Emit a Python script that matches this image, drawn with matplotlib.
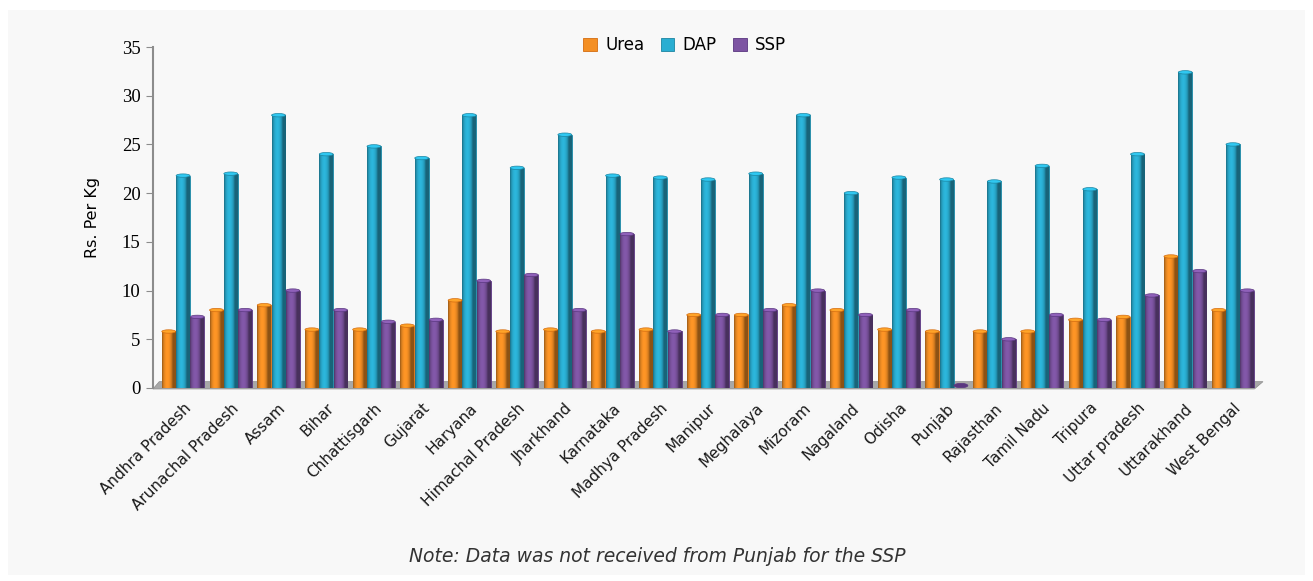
import numpy as np
import matplotlib
matplotlib.use("Agg")
import matplotlib.pyplot as plt
from matplotlib.patches import Rectangle, Polygon, Ellipse

states = ["Andhra Pradesh", "Arunachal Pradesh", "Assam", "Bihar", "Chhattisgarh",
          "Gujarat", "Haryana", "Himachal Pradesh", "Jharkhand", "Karnataka",
          "Madhya Pradesh", "Manipur", "Meghalaya", "Mizoram", "Nagaland", "Odisha",
          "Punjab", "Rajasthan", "Tamil Nadu", "Tripura", "Uttar pradesh",
          "Uttarakhand", "West Bengal"]
urea = [5.8, 8.0, 8.5, 6.0, 6.0, 6.4, 9.0, 5.8, 6.0, 5.8, 6.0, 7.5, 7.5, 8.5, 8.0,
        6.0, 5.8, 5.8, 5.8, 7.0, 7.3, 13.5, 8.0]
dap = [21.8, 22.0, 28.0, 24.0, 24.8, 23.6, 28.0, 22.6, 26.0, 21.8, 21.6, 21.4, 22.0,
       28.0, 20.0, 21.6, 21.4, 21.2, 22.8, 20.4, 24.0, 32.4, 25.0]
ssp = [7.3, 8.0, 10.0, 8.0, 6.8, 7.0, 11.0, 11.6, 8.0, 15.8, 5.8, 7.5, 8.0, 10.0,
       7.5, 8.0, 0.0, 5.0, 7.5, 7.0, 9.5, 12.0, 10.0]

series = [("Urea", urea, "#f48f24", "#d46c10"),
          ("DAP", dap, "#2aaed2", "#1b85a2"),
          ("SSP", ssp, "#7d54a2", "#5a3780")]

fig = plt.figure(figsize=(13.13, 5.81), dpi=100, facecolor="white")
fig.patches.append(Rectangle((8 / 1313, 6 / 581), 1297 / 1313, 565 / 581,
                             transform=fig.transFigure, facecolor="#f8f8f8",
                             edgecolor="none", zorder=-10))
ax = fig.add_axes([153 / 1313, 1 - 388 / 581, 1110 / 1313, 341 / 581])
ax.set_facecolor("none")

x = np.arange(len(states))
w = 0.3
offsets = [-w, 0, w]

# grey floor behind the bars
floor = Polygon([(-0.63, -0.1), (22.45, -0.1), (22.63, 0.65), (-0.5, 0.65)],
                closed=True, facecolor="#a8a8a8", edgecolor="#8c8c8c",
                lw=0.5, zorder=1, clip_on=False)
ax.add_patch(floor)

# horizontal gradient to give a cylinder look
grad = np.linspace(0, 1, 64)
shade = 0.55 + 0.45 * np.sin(np.pi * np.clip(grad * 1.3, 0, 1)) ** 0.6

for (name, vals, col, dark), off in zip(series, offsets):
    base = np.array(matplotlib.colors.to_rgb(col))
    img = np.clip(base[None, :] * shade[:, None] * 1.05, 0, 1)[None, :, :]
    bars = ax.bar(x + off, vals, width=w * 0.97, color=col, edgecolor=dark,
                  linewidth=0.6, zorder=2, label=name)
    for b, v in zip(bars, vals):
        cx = b.get_x() + b.get_width() / 2
        if v <= 0:
            # flat disc for a zero value
            ax.add_patch(Ellipse((cx, 0.25), b.get_width(), 0.45, facecolor=dark,
                                 edgecolor=dark, lw=0.5, zorder=3))
            continue
        im = ax.imshow(img, extent=(b.get_x(), b.get_x() + b.get_width(), 0, v),
                       aspect="auto", zorder=2.5, interpolation="bilinear")
        im.set_clip_path(b)
        ax.add_patch(Ellipse((cx, v), b.get_width(), 0.35,
                             facecolor=np.clip(base * 1.15, 0, 1), edgecolor=dark,
                             lw=0.5, zorder=3))

ax.set_xlim(-0.63, 22.63)
ax.set_ylim(0, 35)
ax.set_yticks(range(0, 36, 5))
ax.tick_params(axis="y", direction="out", length=5, color="#8c8c8c",
               labelsize=13.5, pad=4, labelfontfamily="Liberation Serif")
ax.set_xticks(x)
ax.set_xticklabels(states, rotation=45, ha="right", rotation_mode="anchor",
                   fontsize=11, color="#1a1a1a")
ax.tick_params(axis="x", length=0, pad=9)
for s in ["top", "right", "bottom"]:
    ax.spines[s].set_visible(False)
ax.spines["left"].set_color("#8c8c8c")
ax.spines["left"].set_linewidth(1.5)
ax.set_ylabel("Rs. Per Kg", fontsize=11.5, labelpad=16)

ax.legend(loc="center", bbox_to_anchor=(0.479, 1.005), ncol=3, frameon=False,
          fontsize=12, handlelength=0.8, handleheight=0.8, columnspacing=1.0,
          handletextpad=0.5)

fig.text(657 / 1313, 1 - 557 / 581, "Note: Data was not received from Punjab for the SSP",
         ha="center", va="center", fontsize=13.5, style="italic", color="#333333")

fig.savefig("out.png", dpi=100, facecolor="white")
